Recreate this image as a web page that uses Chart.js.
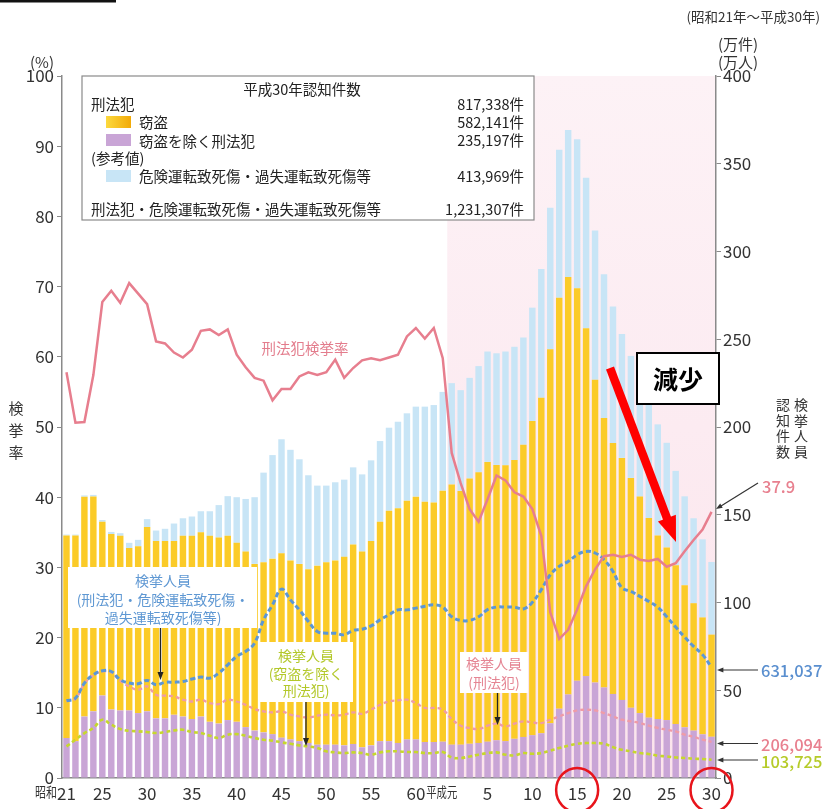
<!DOCTYPE html>
<html>
<head>
<meta charset="utf-8">
<script src="https://cdn.jsdelivr.net/npm/chart.js@4.4.0/dist/chart.umd.min.js"></script>
<style>
  body { margin: 0; background: #fff; }
  #wrap { width: 822px; height: 809px; }
</style>
</head>
<body>
<div id="wrap"><canvas id="myChart" width="822" height="809"></canvas></div>
<script>
// 昭和21年～平成30年 (73 years)
var Years = ['昭和21','昭和22','昭和23','昭和24','昭和25','昭和26','昭和27','昭和28','昭和29','昭和30',
  '昭和31','昭和32','昭和33','昭和34','昭和35','昭和36','昭和37','昭和38','昭和39','昭和40',
  '昭和41','昭和42','昭和43','昭和44','昭和45','昭和46','昭和47','昭和48','昭和49','昭和50',
  '昭和51','昭和52','昭和53','昭和54','昭和55','昭和56','昭和57','昭和58','昭和59','昭和60',
  '昭和61','昭和62','昭和63','平成元','平成2','平成3','平成4','平成5','平成6','平成7',
  '平成8','平成9','平成10','平成11','平成12','平成13','平成14','平成15','平成16','平成17',
  '平成18','平成19','平成20','平成21','平成22','平成23','平成24','平成25','平成26','平成27',
  '平成28','平成29','平成30'];

// x tick labels (index -> text); 昭和 / 平成元 drawn separately
var TickIndex = [0, 4, 9, 14, 19, 24, 29, 34, 39, 47, 52, 57, 62, 67, 72];
var TickText  = ['21','25','30','35','40','45','50','55','60','5','10','15','20','25','30'];

// 認知件数 (万件)
var Otros = [22.8,21.0,35.0,38.0,47.0,39.0,38.5,38.5,37.0,38.0,
  34.0,34.0,36.0,35.0,33.6,35.0,32.0,31.0,33.0,32.0,
  29.0,27.0,26.0,25.0,23.0,22.0,21.0,20.0,19.0,19.0,
  19.0,18.6,19.4,17.5,18.6,21.0,21.0,20.0,22.0,22.0,
  20.5,20.5,20.7,19.0,19.0,19.5,20.0,20.7,21.5,21.0,
  22.3,23.4,24.4,25.5,31.2,39.5,47.6,55.4,58.1,54.4,
  51.6,47.9,44.5,40.0,37.0,34.4,33.6,33.0,30.8,28.9,
  27.0,24.9,23.5];
var Robo = [115.4,117.2,125.3,122.4,99.0,100.0,99.5,92.5,95.0,105.0,
  101.0,101.0,99.0,103.0,104.4,105.0,106.0,106.0,105.0,102.0,
  100.0,95.0,97.0,100.0,105.0,102.0,101.0,99.0,102.0,104.0,
  105.0,107.4,113.6,111.5,116.4,125.0,131.3,133.7,136.0,138.3,
  136.9,136.5,143.0,148.3,144.6,151.2,154.2,159.4,156.9,157.2,
  158.9,166.5,179.0,191.1,213.1,234.1,237.8,223.6,198.2,172.5,
  153.5,143.0,137.9,131.0,123.4,113.7,104.6,98.4,90.4,81.0,
  72.6,66.6,58.2];
var Transito = [0.5,0.5,0.7,0.9,1.0,1.2,1.5,3.0,3.7,4.5,
  6.0,7.0,10.0,10.0,11.0,12.0,14.0,18.5,22.6,26.0,
  30.0,38.0,51.0,59.0,65.0,63.0,59.6,53.5,45.6,43.6,
  44.5,44.0,44.0,44.0,46.0,46.0,47.3,49.3,49.8,51.3,
  54.2,55.5,56.3,57.7,57.4,57.3,60.5,62.9,63.6,64.8,
  64.5,61.1,64.6,73.4,80.7,84.4,83.9,85.0,85.7,85.1,
  81.9,77.7,70.6,69.5,66.6,65.9,63.3,59.6,53.8,50.6,
  48.4,44.5,41.4];

// 刑法犯検挙率 (%)
var Tasa = [57.8,50.6,50.7,57.4,67.8,69.4,67.7,70.5,69.0,67.5,
  62.2,61.9,60.6,59.9,61.0,63.7,63.9,63.1,63.9,60.3,
  58.5,57.0,56.6,53.8,55.4,55.4,57.2,57.8,57.4,57.8,
  59.6,57.0,58.4,59.5,59.8,59.5,59.9,60.3,62.9,64.1,
  62.6,64.1,59.8,46.3,42.0,38.3,36.5,39.7,43.1,42.4,
  40.7,40.1,38.3,34.5,23.6,19.8,21.1,24.0,27.3,29.7,
  31.6,31.8,31.5,31.8,31.1,30.9,31.2,30.1,30.6,32.3,
  33.9,35.4,37.9];

// 検挙人員 (万人)
var DetTotal = [44.0,45.5,54.1,58.8,61.1,60.7,56.0,54.1,53.7,55.6,
  53.1,54.5,54.6,55.0,56.4,57.5,56.9,59.8,64.5,69.3,
  72.1,76.9,90.1,98.7,107.6,101.5,95.8,89.2,83.5,82.5,
  82.5,81.6,84.1,84.8,86.7,90.1,93.0,95.8,95.8,96.8,
  97.9,98.7,97.4,91.9,89.8,89.8,91.9,95.9,97.4,97.4,
  97.4,96.3,100.1,107.3,115.8,120.6,123.4,127.2,129.1,128.2,
  124.4,117.7,108.3,106.4,103.5,100.6,97.3,91.9,86.0,80.3,
  75.0,70.3,63.1];
var DetPenal = [43.8,45.2,53.8,58.5,60.7,60.2,55.3,52.2,50.3,52.2,
  47.4,46.9,46.5,44.6,43.6,44.6,42.7,42.1,44.6,43.6,
  41.7,39.3,38.0,37.4,38.0,36.1,35.1,34.5,35.5,36.1,
  35.7,36.1,37.4,36.6,38.9,41.7,43.6,44.2,44.6,42.7,
  39.9,39.9,38.9,33.6,29.8,28.5,27.9,29.8,31.0,29.4,
  31.0,32.3,31.7,31.3,33.2,35.1,37.0,38.5,38.9,38.5,
  37.0,35.1,33.2,32.3,31.3,29.8,28.5,27.5,26.6,24.7,
  23.4,21.9,20.6];
var DetOtros = [18.0,21.8,25.6,28.5,33.2,30.4,27.9,26.9,26.6,26.2,
  25.6,26.2,27.1,27.5,26.2,25.6,24.1,22.8,24.7,25.0,
  24.1,22.8,21.8,21.3,20.3,19.5,18.6,18.0,17.1,15.2,
  14.6,14.2,14.6,14.2,13.3,14.6,15.2,15.2,14.8,14.8,
  14.2,14.2,14.8,11.7,11.4,12.3,13.3,14.2,14.6,13.3,
  12.9,14.2,13.8,14.2,15.6,17.1,18.4,19.5,19.9,19.9,
  19.5,17.6,16.1,15.2,14.2,13.7,12.7,12.3,11.7,11.4,
  11.0,10.8,10.4];

var F = '"Noto Sans CJK JP","Noto Sans",sans-serif';

function Texto(ctx, s, x, y, size, color, align, weight, maxW)
{
    ctx.font = (weight || 'normal') + ' ' + size + 'px ' + F;
    ctx.fillStyle = color;
    ctx.textAlign = align || 'left';
    ctx.textBaseline = 'middle';
    if (maxW) ctx.fillText(s, x, y, maxW);
    else ctx.fillText(s, x, y);
}

function Vertical(ctx, s, x, y, size, step, color)
{
    for (var i = 0; i < s.length; i++) Texto(ctx, s[i], x, y + i * step, size, color, 'center');
}

function Flecha(ctx, x1, y1, x2, y2, color, w, head)
{
    var a = Math.atan2(y2 - y1, x2 - x1);
    ctx.strokeStyle = color; ctx.fillStyle = color; ctx.lineWidth = w;
    ctx.beginPath(); ctx.moveTo(x1, y1);
    ctx.lineTo(x2 - Math.cos(a) * head, y2 - Math.sin(a) * head); ctx.stroke();
    ctx.beginPath(); ctx.moveTo(x2, y2);
    ctx.lineTo(x2 - Math.cos(a) * head * 1.6 + Math.sin(a) * head * 0.6, y2 - Math.sin(a) * head * 1.6 - Math.cos(a) * head * 0.6);
    ctx.lineTo(x2 - Math.cos(a) * head * 1.6 - Math.sin(a) * head * 0.6, y2 - Math.sin(a) * head * 1.6 + Math.cos(a) * head * 0.6);
    ctx.closePath(); ctx.fill();
}

function Caja(ctx, x, y, w, h, lines, color, cx, y0, step)
{
    ctx.fillStyle = '#fff'; ctx.fillRect(x, y, w, h);
    for (var i = 0; i < lines.length; i++) Texto(ctx, lines[i], cx, y0 + i * step, 14, color, 'center');
}

var Fondo = {
    id: 'fondo',
    beforeDatasetsDraw: function(chart)
    {
        var ctx = chart.ctx, a = chart.chartArea, xs = chart.scales.x;
        var half = (xs.getPixelForValue(1) - xs.getPixelForValue(0)) / 2;
        var x0 = xs.getPixelForValue(43) - half;
        var g = ctx.createLinearGradient(0, a.top, 0, a.bottom);
        g.addColorStop(0, '#fdf2f6');
        g.addColorStop(1, '#fbe4ec');
        ctx.save();
        ctx.fillStyle = g;
        ctx.fillRect(x0, a.top, a.right - x0 - 1, a.bottom - a.top - 1);
        ctx.restore();
    },
    afterDraw: function(chart)
    {
        var ctx = chart.ctx, xs = chart.scales.x;
        ctx.save();
        ctx.fillStyle = '#111'; ctx.fillRect(0, 0, 116, 2.5);

        // axis titles
        Texto(ctx, '(%)', 42, 62, 15, '#333', 'center');
        Vertical(ctx, '検挙率', 16, 408, 15, 22, '#333');
        Texto(ctx, '(昭和21年～平成30年)', 820, 17, 13.5, '#333', 'right');
        Texto(ctx, '(万件)', 738, 44, 15, '#333', 'center');
        Texto(ctx, '(万人)', 738, 62, 15, '#333', 'center');
        Vertical(ctx, '検挙人員', 801, 405, 14, 15.5, '#333');
        Vertical(ctx, '認知件数', 783, 405, 14, 15.5, '#333');

        // era labels on x axis
        Texto(ctx, '昭和', 57, 792, 14, '#333', 'right', 'normal', 22);
        Texto(ctx, '平成元', xs.getPixelForValue(43) - 10, 792, 14, '#333', 'center', 'normal', 31);

        // legend box
        ctx.fillStyle = '#fff'; ctx.fillRect(82, 76, 452, 144);
        ctx.strokeStyle = '#8a8a8a'; ctx.lineWidth = 1.2; ctx.strokeRect(82, 76, 452, 144);
        Texto(ctx, '平成30年認知件数', 302, 89, 14.5, '#222', 'center');
        Texto(ctx, '刑法犯', 91, 104, 14.5, '#222');
        var gy = ctx.createLinearGradient(106, 0, 131, 0);
        gy.addColorStop(0, '#fcd93e'); gy.addColorStop(1, '#f2aa08');
        ctx.fillStyle = gy; ctx.fillRect(106, 116, 25, 12);
        Texto(ctx, '窃盗', 139, 122, 14.5, '#222');
        ctx.fillStyle = '#c9a5d6'; ctx.fillRect(106, 134, 25, 12);
        Texto(ctx, '窃盗を除く刑法犯', 139, 141, 14.5, '#222');
        Texto(ctx, '(参考値)', 91, 158, 14.5, '#222');
        ctx.fillStyle = '#c8e5f6'; ctx.fillRect(106, 170, 25, 12);
        Texto(ctx, '危険運転致死傷・過失運転致死傷等', 139, 176, 14.5, '#222');
        Texto(ctx, '刑法犯・危険運転致死傷・過失運転致死傷等', 91, 209, 14.5, '#222');
        Texto(ctx, '817,338件', 524, 104, 14.5, '#222', 'right');
        Texto(ctx, '582,141件', 524, 122, 14.5, '#222', 'right');
        Texto(ctx, '235,197件', 524, 140, 14.5, '#222', 'right');
        Texto(ctx, '413,969件', 524, 176, 14.5, '#222', 'right');
        Texto(ctx, '1,231,307件', 524, 209, 14.5, '#222', 'right');

        // in-chart notes
        Texto(ctx, '刑法犯検挙率', 305, 348, 14.5, '#e37c8c', 'center');
        Caja(ctx, 68, 567, 189, 61, ['検挙人員', '(刑法犯・危険運転致死傷・', '過失運転致死傷等)'], '#5f98d3', 163, 581, 18.5);
        Flecha(ctx, 160.5, 628, 160.5, 680, '#222', 1.3, 5);
        Caja(ctx, 258, 642, 95, 60, ['検挙人員', '(窃盗を除く', '刑法犯)'], '#b3c82a', 306, 656, 17.5);
        Flecha(ctx, 306, 702, 306, 746, '#222', 1.3, 5);
        Caja(ctx, 460, 652, 68, 41, ['検挙人員', '(刑法犯)'], '#e58593', 494, 664, 18.5);
        Flecha(ctx, 497.5, 693, 497.5, 725, '#222', 1.3, 5);

        // right side values
        Flecha(ctx, 758, 483, 716, 509, '#333', 1.2, 4);
        Texto(ctx, '37.9', 762, 487, 16.5, '#e8808f', 'left', '500');
        Flecha(ctx, 758, 670, 717, 670, '#333', 1.2, 4);
        Texto(ctx, '631,037', 761, 671, 16.5, '#5a8fcf', 'left', '500');
        Flecha(ctx, 758, 743.5, 717, 743.5, '#333', 1.2, 4);
        Texto(ctx, '206,094', 761, 745, 16.5, '#e8808f', 'left', '500');
        Flecha(ctx, 758, 760, 717, 760, '#333', 1.2, 4);
        Texto(ctx, '103,725', 761, 762, 16.5, '#b6cb2a', 'left', '500');

        // 減少 box and red arrow
        ctx.fillStyle = '#fff'; ctx.fillRect(637, 353, 82, 51);
        ctx.strokeStyle = '#000'; ctx.lineWidth = 2; ctx.strokeRect(637, 353, 82, 51);
        Texto(ctx, '減少', 678, 379, 25, '#000', 'center', 'bold');
        Flecha(ctx, 610, 368, 676, 542, '#ff0000', 8.5, 16);

        // red circles
        ctx.strokeStyle = '#e8141b'; ctx.lineWidth = 2.5;
        ctx.beginPath(); ctx.ellipse(xs.getPixelForValue(57), 790, 21, 22, 0, 0, Math.PI * 2); ctx.stroke();
        ctx.beginPath(); ctx.ellipse(xs.getPixelForValue(72), 790, 21, 22, 0, 0, Math.PI * 2); ctx.stroke();
        ctx.restore();
    }
};

function Graficas()
{
    var ctx = document.getElementById('myChart').getContext('2d');
    var bar = {stack: 'bars', yAxisID: 'y2', order: 2, barPercentage: 0.72, categoryPercentage: 1, borderWidth: 0};
    var chart = new Chart(ctx, {
        type: 'bar',
        data: {
            labels: Years,
            datasets: [
                Object.assign({type: 'bar', label: '窃盗を除く刑法犯', data: Otros, backgroundColor: '#c9a5d6'}, bar),
                Object.assign({type: 'bar', label: '窃盗', data: Robo, backgroundColor: '#fbcb28'}, bar),
                Object.assign({type: 'bar', label: '危険運転致死傷・過失運転致死傷等', data: Transito, backgroundColor: '#c8e5f6'}, bar),
                {type: 'line', label: '刑法犯検挙率', data: Tasa, yAxisID: 'y', stack: 'l0', order: 0,
                 borderColor: '#e77e8e', borderWidth: 2.5, pointRadius: 0, tension: 0},
                {type: 'line', label: '検挙人員(刑法犯・危険運転致死傷・過失運転致死傷等)', data: DetTotal, yAxisID: 'y2', stack: 'l1', order: 1,
                 borderColor: '#5b97d6', borderWidth: 3, borderDash: [5, 3], pointRadius: 0, tension: 0.4},
                {type: 'line', label: '検挙人員(刑法犯)', data: DetPenal, yAxisID: 'y2', stack: 'l2', order: 1,
                 borderColor: '#ef9ba7', borderWidth: 2.3, borderDash: [4, 3], pointRadius: 0, tension: 0.4},
                {type: 'line', label: '検挙人員(窃盗を除く刑法犯)', data: DetOtros, yAxisID: 'y2', stack: 'l3', order: 1,
                 borderColor: '#c6d82c', borderWidth: 2.6, borderDash: [4, 3], pointRadius: 0, tension: 0.4}
            ]
        },
        options: {
            responsive: false,
            animation: false,
            devicePixelRatio: 1,
            layout: {padding: {top: 76, left: 0, right: 0, bottom: 0}},
            plugins: {legend: {display: false}, tooltip: {enabled: false}},
            scales: {
                x: {
                    stacked: true,
                    grid: {display: false, drawTicks: false},
                    border: {display: true, color: '#8a8a8a', width: 1.5},
                    ticks: {
                        autoSkip: false, maxRotation: 0, minRotation: 0, padding: 5,
                        color: '#333', font: {family: F, size: 17},
                        callback: function(v, i) { var k = TickIndex.indexOf(i); return k < 0 ? '' : TickText[k]; }
                    },
                    afterFit: function(s) { s.height = 31; }
                },
                y: {
                    position: 'left', min: 0, max: 100,
                    grid: {drawOnChartArea: false, tickLength: 5, color: '#8a8a8a'},
                    border: {display: true, color: '#8a8a8a', width: 1.5},
                    ticks: {stepSize: 10, padding: 3, color: '#333', font: {family: F, size: 17}},
                    afterFit: function(s) { s.width = 62; }
                },
                y2: {
                    position: 'right', min: 0, max: 400, stacked: true,
                    grid: {drawOnChartArea: false, tickLength: 5, color: '#8a8a8a'},
                    border: {display: true, color: '#8a8a8a', width: 1.5},
                    ticks: {stepSize: 50, padding: 2, color: '#333', font: {family: F, size: 17}},
                    afterFit: function(s) { s.width = 106; }
                }
            }
        },
        plugins: [Fondo]
    });
}

Graficas();
</script>
</body>
</html>
